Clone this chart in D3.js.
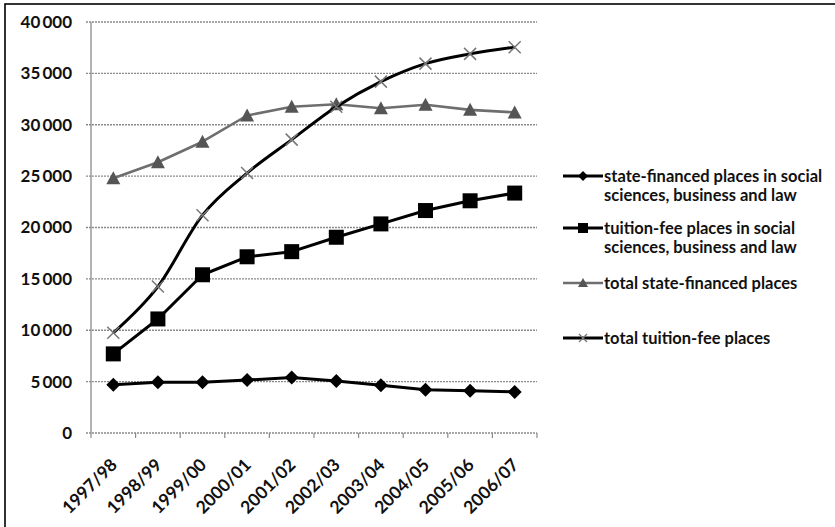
<!DOCTYPE html>
<html><head><meta charset="utf-8">
<script src="https://cdn.jsdelivr.net/npm/d3@7"></script>
<style>body{margin:0;background:#fff}svg{display:block}</style>
</head><body><svg id="c" width="835" height="527"></svg>
<script>
const categories = ["1997/98","1998/99","1999/00","2000/01","2001/02","2002/03","2003/04","2004/05","2005/06","2006/07"];
const stateSocial = [4700,4950,4950,5150,5400,5050,4650,4200,4100,4000];
const tuitionSocial = [7700,11100,15400,17150,17650,19050,20350,21650,22600,23350];
const totalState = [24800,26350,28350,30900,31750,32000,31600,31950,31450,31200];
const totalTuition = [9750,14250,21200,25300,28550,31750,34200,35950,36900,37550];
const yTicks = [0,5000,10000,15000,20000,25000,30000,35000,40000];
const legendLabels = [
  ["state-financed places in social","sciences, business and law"],
  ["tuition-fee places in social","sciences, business and law"],
  ["total state-financed places"],
  ["total tuition-fee places"]
];

const svg = d3.select("#c");
const font = "Lato, 'Open Sans', sans-serif";
const L=91, R=537, T=22, B=433;
const x = d3.scaleBand().domain(categories).range([L,R]);
const y = d3.scaleLinear().domain([0,40000]).range([B,T]);
const cx = d => x(d)+x.bandwidth()/2;
const fmt = v => v===0 ? "0" : d3.format(",")(v).replace(",", "\u2009");

// frame
svg.append("rect").attr("x",5).attr("y",4).attr("width",840).attr("height",540)
  .attr("fill","none").attr("stroke","#000").attr("stroke-width",1.6);

// gridlines
svg.append("g").selectAll("line").data(yTicks).join("line")
  .attr("x1",L-5).attr("x2",R).attr("y1",d=>y(d)).attr("y2",d=>y(d))
  .attr("stroke","#8a8a8a").attr("stroke-width",1.3).attr("stroke-dasharray","2,1");
// y axis line
svg.append("line").attr("x1",L).attr("x2",L).attr("y1",T).attr("y2",B)
  .attr("stroke","#8a8a8a").attr("stroke-width",1.3);
// y labels
svg.append("g").selectAll("text").data(yTicks).join("text")
  .attr("x",72).attr("y",d=>y(d)).attr("dy","0.35em").attr("text-anchor","end")
  .attr("font-family",font).attr("font-weight","bold").attr("font-size",17).attr("fill","#111")
  .text(fmt);
// x ticks at band boundaries
const bounds = categories.map(c=>x(c)).concat([R]);
svg.append("g").selectAll("line").data(bounds).join("line")
  .attr("x1",d=>d).attr("x2",d=>d).attr("y1",B).attr("y2",B+5)
  .attr("stroke","#8a8a8a").attr("stroke-width",1.2);
// x labels
svg.append("g").selectAll("text").data(categories).join("text")
  .attr("transform",d=>`translate(${cx(d)+5},${B+33}) rotate(-45)`)
  .attr("text-anchor","end")
  .attr("font-family",font).attr("font-weight","bold").attr("font-size",17.5).attr("fill","#111")
  .text(d=>d);

const series = [
  {vals: stateSocial, stroke:"#000", w:3, curve:d3.curveLinear, marker:"diamond", mfill:"#000"},
  {vals: tuitionSocial, stroke:"#000", w:3, curve:d3.curveLinear, marker:"square", mfill:"#000"},
  {vals: totalState, stroke:"#6e6e6e", w:2.6, curve:d3.curveLinear, marker:"triangle", mfill:"#555"},
  {vals: totalTuition, stroke:"#000", w:3, curve:d3.curveCardinal.tension(0), marker:"cross", mfill:"#777"}
];

function drawMarker(g, type, px, py, fill){
  if(type==="diamond"){
    g.append("path").attr("d",`M${px},${py-7}L${px+7},${py}L${px},${py+7}L${px-7},${py}Z`).attr("fill",fill);
  } else if(type==="square"){
    g.append("rect").attr("x",px-7.5).attr("y",py-7.5).attr("width",15).attr("height",15).attr("fill",fill);
  } else if(type==="triangle"){
    g.append("path").attr("d",`M${px},${py-7}L${px+7},${py+6}L${px-7},${py+6}Z`).attr("fill",fill);
  } else {
    g.append("path").attr("d",`M${px-6},${py-6}L${px+6},${py+6}M${px-6},${py+6}L${px+6},${py-6}`)
      .attr("stroke",fill).attr("stroke-width",1.5).attr("fill","none");
  }
}

const order = [2,3,1,0];
order.forEach(i=>{
  const s = series[i];
  const line = d3.line().x((d,j)=>cx(categories[j])).y(d=>y(d)).curve(s.curve);
  svg.append("path").attr("d",line(s.vals)).attr("fill","none")
    .attr("stroke",s.stroke).attr("stroke-width",s.w).attr("stroke-linejoin","round");
  const g = svg.append("g");
  s.vals.forEach((v,j)=>drawMarker(g,s.marker,cx(categories[j]),y(v),s.mfill));
});

// legend
const legY = [176, 228, 283, 338];
legendLabels.forEach((lines,i)=>{
  const s = series[i];
  const ly = legY[i];
  svg.append("line").attr("x1",563).attr("x2",603).attr("y1",ly).attr("y2",ly)
    .attr("stroke",s.stroke).attr("stroke-width",s.w);
  const g = svg.append("g");
  if(s.marker==="square"){
    g.append("rect").attr("x",578).attr("y",ly-5).attr("width",10).attr("height",10).attr("fill",s.mfill);
  } else if(s.marker==="diamond"){
    g.append("path").attr("d",`M583,${ly-5}L588,${ly}L583,${ly+5}L578,${ly}Z`).attr("fill",s.mfill);
  } else if(s.marker==="triangle"){
    g.append("path").attr("d",`M583,${ly-5}L588,${ly+4}L578,${ly+4}Z`).attr("fill",s.mfill);
  } else {
    g.append("path").attr("d",`M579,${ly-4}L587,${ly+4}M579,${ly+4}L587,${ly-4}`).attr("stroke",s.mfill).attr("stroke-width",1.3);
  }
  lines.forEach((ln,k)=>svg.append("text").attr("x",604).attr("y",ly + k*19).attr("dy","0.35em")
    .attr("font-family",font).attr("font-weight","bold").attr("font-size",16.5).attr("fill","#111")
    .text(ln));
});
</script></body></html>
